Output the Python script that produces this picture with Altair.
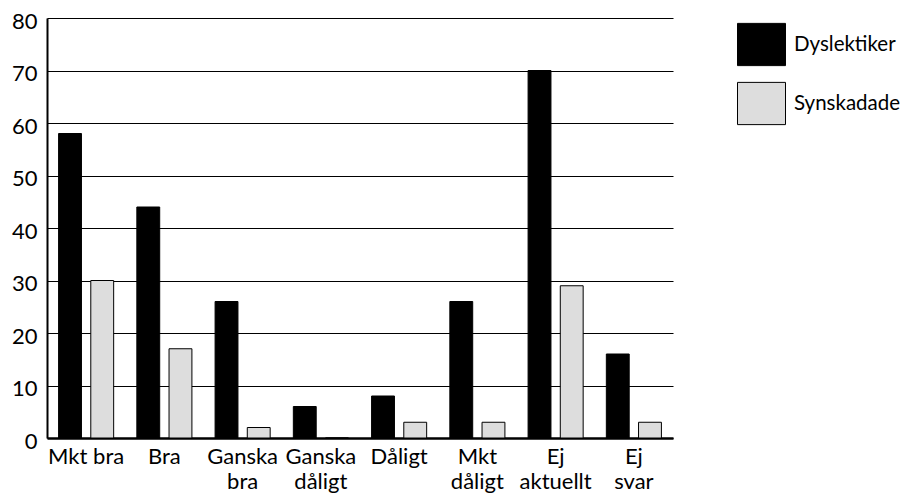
import json
import altair as alt
import pandas as pd

categories = ["Mkt bra", "Bra", "Ganska bra", "Ganska dåligt", "Dåligt",
              "Mkt dåligt", "Ej aktuellt", "Ej svar"]
tick_labels = [["Mkt bra"], ["Bra"], ["Ganska", "bra"], ["Ganska", "dåligt"],
               ["Dåligt"], ["Mkt", "dåligt"], ["Ej", "aktuellt"], ["Ej", "svar"]]
series = ["Dyslektiker", "Synskadade"]
dyslektiker = [58, 44, 26, 6, 8, 26, 70, 16]
synskadade = [30, 17, 2, 0, 3, 3, 29, 3]
y_ticks = [0, 10, 20, 30, 40, 50, 60, 70, 80]
colors = ["#000000", "#dddddd"]

rows = []
for c, d, s in zip(categories, dyslektiker, synskadade):
    rows.append({"kategori": c, "grupp": series[0], "varde": d})
    rows.append({"kategori": c, "grupp": series[1], "varde": s})
df = pd.DataFrame(rows)

label_expr = f"{json.dumps(tick_labels, ensure_ascii=False)}[indexof({json.dumps(categories, ensure_ascii=False)}, datum.value)]"

FONT = "Lato"
FS = 22

chart = alt.Chart(df).mark_bar(stroke="black", strokeWidth=1).encode(
    x=alt.X("kategori:N", sort=categories,
            scale=alt.Scale(paddingInner=0, paddingOuter=0),
            axis=alt.Axis(title=None, labelAngle=0, labelExpr=label_expr,
                          ticks=False, domainColor="black", domainWidth=2.5,
                          labelFontSize=FS, labelColor="black", labelFont=FONT,
                          labelPadding=8, labelLineHeight=25,
                          labelBaseline="top")),
    xOffset=alt.XOffset("grupp:N", sort=series,
                        scale=alt.Scale(paddingInner=0.29, paddingOuter=0.36)),
    y=alt.Y("varde:Q", scale=alt.Scale(domain=[0, 80], nice=False),
            axis=alt.Axis(title=None, values=y_ticks, ticks=False,
                          grid=True, gridColor="black", gridWidth=1.2,
                          domainColor="black", domainWidth=2,
                          labelFontSize=FS, labelColor="black", labelFont=FONT,
                          labelPadding=10, labelOffset=3)),
    color=alt.Color("grupp:N", sort=series,
                    scale=alt.Scale(domain=series, range=colors),
                    legend=alt.Legend(title=None, orient="none",
                                      legendX=690, legendY=2,
                                      symbolType="M-1,-0.88H1V0.88H-1Z",
                                      symbolSize=2304, symbolStrokeColor="black",
                                      symbolStrokeWidth=1, symbolOpacity=1,
                                      labelFontSize=20.5, labelFont=FONT,
                                      labelColor="black", labelOffset=8,
                                      rowPadding=11, padding=0)),
).properties(
    width=626, height=420,
    autosize=alt.AutoSizeParams(type="none"),
    padding={"left": 39, "top": 10, "right": 228, "bottom": 56},
).configure_view(stroke=None)

chart.save("out.html", embed_options={"renderer": "svg", "actions": False})
